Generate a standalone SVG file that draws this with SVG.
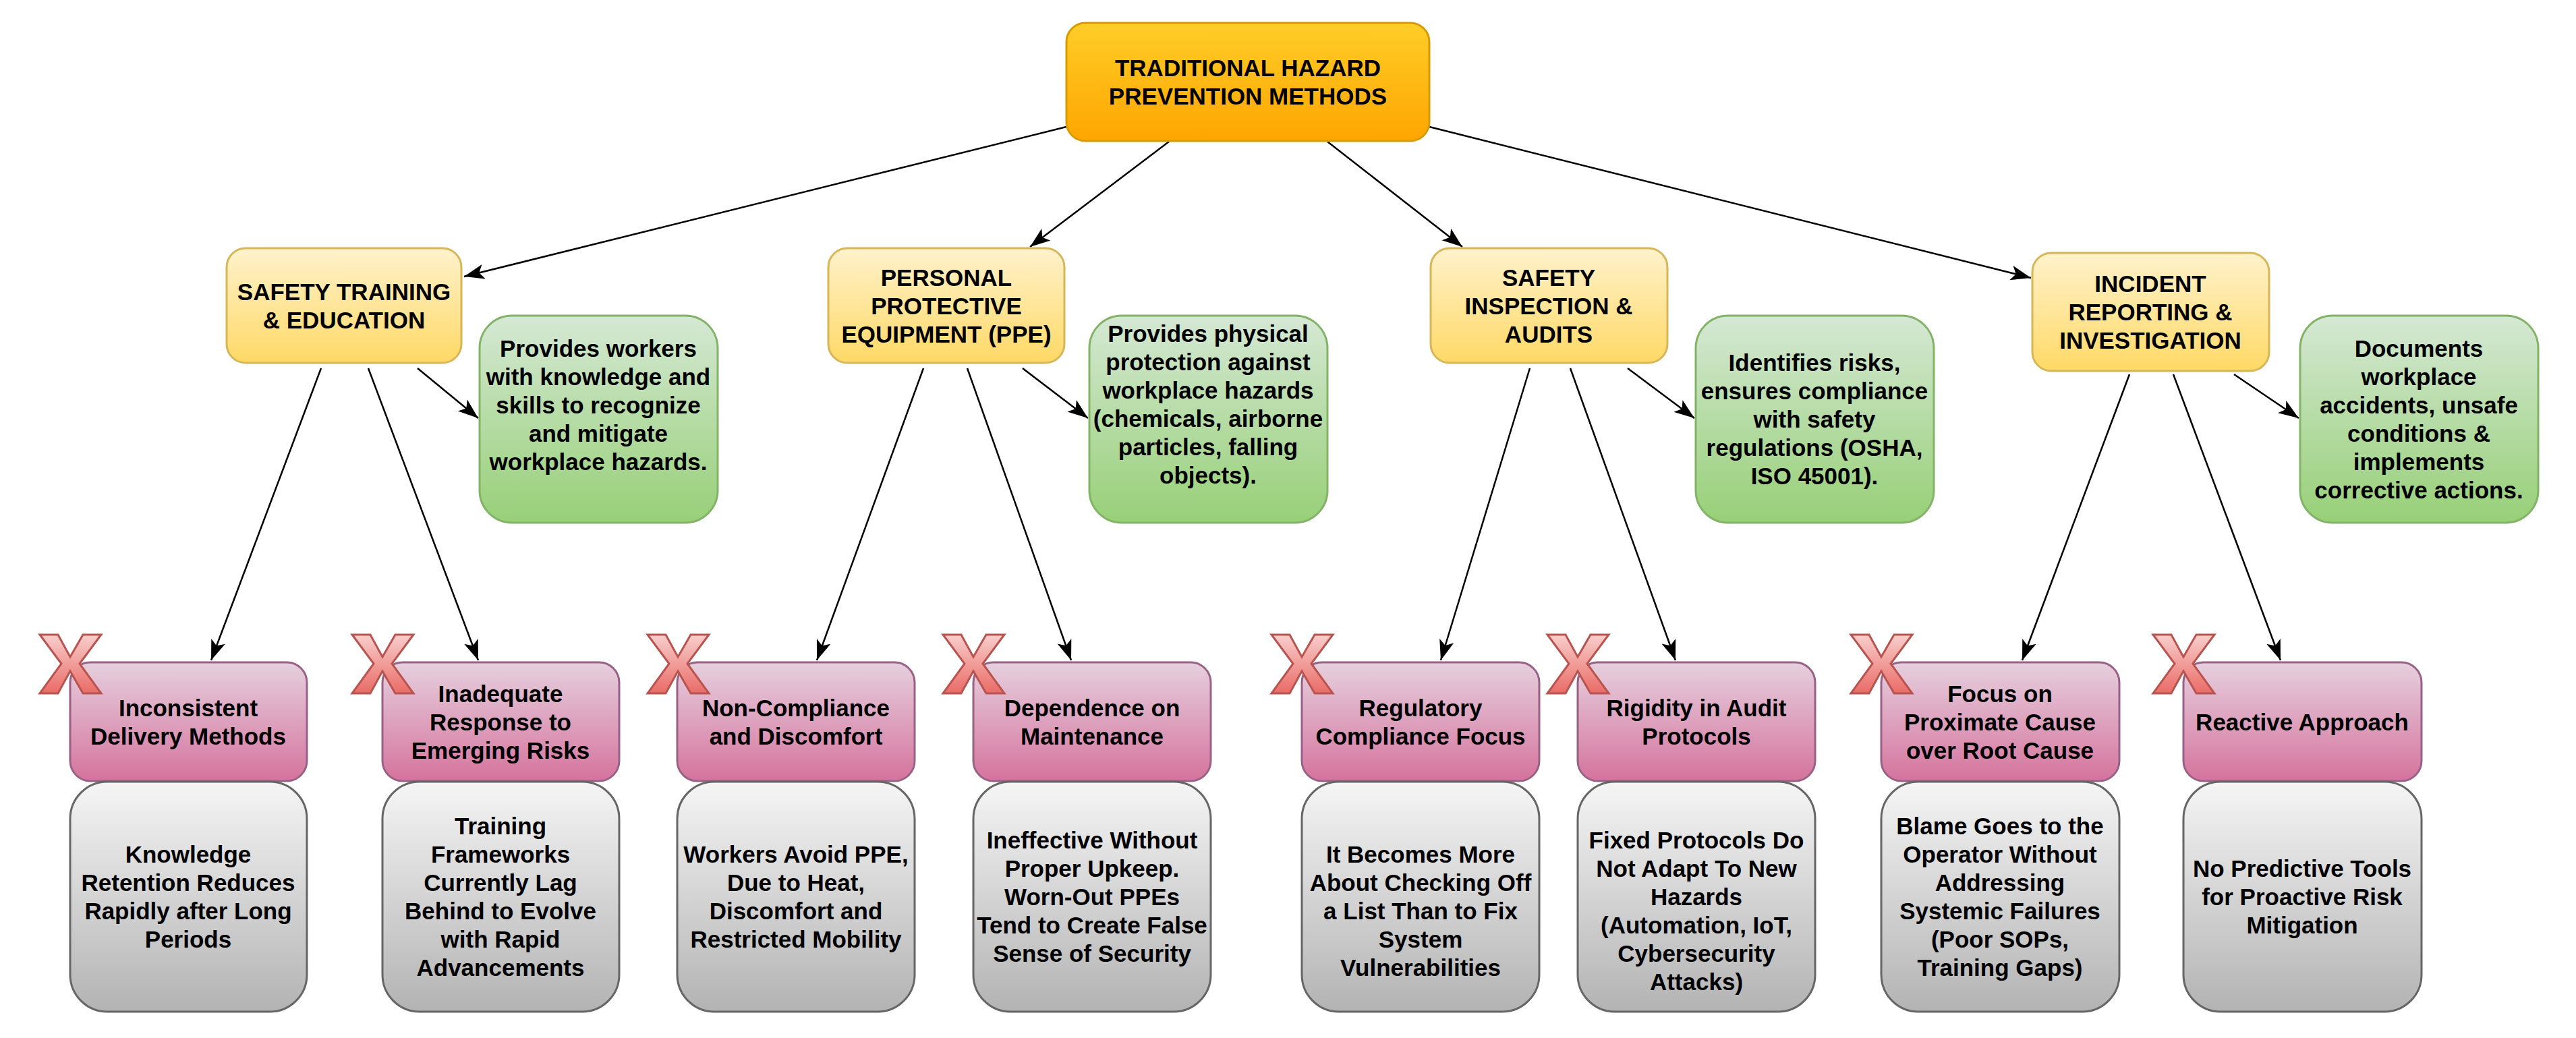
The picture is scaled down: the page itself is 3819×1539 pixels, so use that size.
<svg xmlns="http://www.w3.org/2000/svg" width="3819" height="1539" viewBox="0 0 3819 1539">
<defs>
<linearGradient id="gOr" x1="0" y1="0" x2="0" y2="1"><stop offset="0" stop-color="#ffcd28"/><stop offset="1" stop-color="#ffa500"/></linearGradient>
<linearGradient id="gY" x1="0" y1="0" x2="0" y2="1"><stop offset="0" stop-color="#fff2cc"/><stop offset="1" stop-color="#ffd966"/></linearGradient>
<linearGradient id="gG" x1="0" y1="0" x2="0" y2="1"><stop offset="0" stop-color="#d5e8d4"/><stop offset="1" stop-color="#97d077"/></linearGradient>
<linearGradient id="gP" x1="0" y1="0" x2="0" y2="1"><stop offset="0" stop-color="#e6d0de"/><stop offset="1" stop-color="#d5739d"/></linearGradient>
<linearGradient id="gS" x1="0" y1="0" x2="0" y2="1"><stop offset="0" stop-color="#f5f5f5"/><stop offset="1" stop-color="#b3b3b3"/></linearGradient>
<linearGradient id="gR" x1="0" y1="0" x2="0" y2="1"><stop offset="0" stop-color="#f8cecc"/><stop offset="1" stop-color="#ea6b66"/></linearGradient>
<marker id="ar" markerUnits="userSpaceOnUse" markerWidth="32" markerHeight="24" refX="30" refY="11" orient="auto"><path d="M0,0 L30,11 L0,22 L7,11 Z" fill="#000"/></marker>
<polygon id="xm" points="0,0 27,0 45,33 64,0 91,0 59,43 91,87 64,87 45,54 27,87 0,87 32,43" fill="url(#gR)" stroke="#b85450" stroke-width="3"/>
</defs>
<style>
text{font-family:"Liberation Sans",Arial,sans-serif;font-weight:bold;font-size:35px;fill:#000;text-anchor:middle;dominant-baseline:central}
.or{fill:url(#gOr);stroke:#d79b00;stroke-width:3}
.y{fill:url(#gY);stroke:#d6b656;stroke-width:3}
.g{fill:url(#gG);stroke:#82b366;stroke-width:3}
.p{fill:url(#gP);stroke:#996185;stroke-width:3}
.s{fill:url(#gS);stroke:#666;stroke-width:3}
.c{fill:none;stroke:#000;stroke-width:2.5;marker-end:url(#ar)}
</style>
<rect width="3819" height="1539" fill="#fff"/>
<g id="connectors">
<path class="c" d="M1581,188 L688,410"/>
<path class="c" d="M1733,210 L1527,366"/>
<path class="c" d="M1968,210 L2168,366"/>
<path class="c" d="M2119,188 L3011,412"/>
<path class="c" d="M619,546 L709,620"/>
<path class="c" d="M476,546 L313,979"/>
<path class="c" d="M546,546 L709,979"/>
<path class="c" d="M1516,546 L1613,620"/>
<path class="c" d="M1369,546 L1211,979"/>
<path class="c" d="M1434,546 L1588,979"/>
<path class="c" d="M2413,546 L2512,620"/>
<path class="c" d="M2268,546 L2136,979"/>
<path class="c" d="M2328,546 L2484,979"/>
<path class="c" d="M3312,555 L3408,620"/>
<path class="c" d="M3157,555 L2998,979"/>
<path class="c" d="M3222,555 L3381,979"/>
</g>
<g id="root"><rect class="or" x="1581" y="34" width="538" height="175" rx="28"/><text x="1850" y="100">TRADITIONAL HAZARD</text><text x="1850" y="142">PREVENTION METHODS</text></g>

<g id="cat1"><rect class="y" x="336" y="368" width="348" height="170" rx="28"/><text x="510" y="432">SAFETY TRAINING</text><text x="510" y="474">&amp; EDUCATION</text></g>
<g id="cat2"><rect class="y" x="1228" y="368" width="350" height="170" rx="28"/><text x="1403" y="411">PERSONAL</text><text x="1403" y="453">PROTECTIVE</text><text x="1403" y="495">EQUIPMENT (PPE)</text></g>
<g id="cat3"><rect class="y" x="2121" y="368" width="351" height="170" rx="28"/><text x="2296" y="411">SAFETY</text><text x="2296" y="453">INSPECTION &amp;</text><text x="2296" y="495">AUDITS</text></g>
<g id="cat4"><rect class="y" x="3013" y="375" width="351" height="175" rx="28"/><text x="3188" y="420">INCIDENT</text><text x="3188" y="462">REPORTING &amp;</text><text x="3188" y="504">INVESTIGATION</text></g>

<g id="desc1"><rect class="g" x="711" y="468" width="353" height="307" rx="48"/><text x="887" y="516">Provides workers</text><text x="887" y="558">with knowledge and</text><text x="887" y="600">skills to recognize</text><text x="887" y="642">and mitigate</text><text x="887" y="684">workplace hazards.</text></g>
<g id="desc2"><rect class="g" x="1615" y="468" width="353" height="307" rx="48"/><text x="1791" y="494">Provides physical</text><text x="1791" y="536">protection against</text><text x="1791" y="578">workplace hazards</text><text x="1791" y="620">(chemicals, airborne</text><text x="1791" y="662">particles, falling</text><text x="1791" y="704">objects).</text></g>
<g id="desc3"><rect class="g" x="2514" y="468" width="353" height="307" rx="48"/><text x="2690" y="537">Identifies risks,</text><text x="2690" y="579">ensures compliance</text><text x="2690" y="621">with safety</text><text x="2690" y="663">regulations (OSHA,</text><text x="2690" y="705">ISO 45001).</text></g>
<g id="desc4"><rect class="g" x="3410" y="468" width="353" height="307" rx="48"/><text x="3586" y="516">Documents</text><text x="3586" y="558">workplace</text><text x="3586" y="600">accidents, unsafe</text><text x="3586" y="642">conditions &amp;</text><text x="3586" y="684">implements</text><text x="3586" y="726">corrective actions.</text></g>

<g id="lim1"><rect class="p" x="104" y="982" width="351" height="176" rx="30"/><text x="279" y="1049">Inconsistent</text><text x="279" y="1091">Delivery Methods</text><use href="#xm" x="59" y="941"/></g>
<g id="lim2"><rect class="p" x="567" y="982" width="351" height="176" rx="30"/><text x="742" y="1028">Inadequate</text><text x="742" y="1070">Response to</text><text x="742" y="1112">Emerging Risks</text><use href="#xm" x="522" y="941"/></g>
<g id="lim3"><rect class="p" x="1004" y="982" width="352" height="176" rx="30"/><text x="1180" y="1049">Non-Compliance</text><text x="1180" y="1091">and Discomfort</text><use href="#xm" x="960" y="941"/></g>
<g id="lim4"><rect class="p" x="1443" y="982" width="352" height="176" rx="30"/><text x="1619" y="1049">Dependence on</text><text x="1619" y="1091">Maintenance</text><use href="#xm" x="1398" y="941"/></g>
<g id="lim5"><rect class="p" x="1930" y="982" width="352" height="176" rx="30"/><text x="2106" y="1049">Regulatory</text><text x="2106" y="1091">Compliance Focus</text><use href="#xm" x="1885" y="941"/></g>
<g id="lim6"><rect class="p" x="2339" y="982" width="352" height="176" rx="30"/><text x="2515" y="1049">Rigidity in Audit</text><text x="2515" y="1091">Protocols</text><use href="#xm" x="2294" y="941"/></g>
<g id="lim7"><rect class="p" x="2789" y="982" width="353" height="176" rx="30"/><text x="2965" y="1028">Focus on</text><text x="2965" y="1070">Proximate Cause</text><text x="2965" y="1112">over Root Cause</text><use href="#xm" x="2744" y="941"/></g>
<g id="lim8"><rect class="p" x="3237" y="982" width="353" height="176" rx="30"/><text x="3413" y="1070">Reactive Approach</text><use href="#xm" x="3192" y="941"/></g>

<g id="det1"><rect class="s" x="104" y="1159" width="351" height="341" rx="55"/><text x="279" y="1266">Knowledge</text><text x="279" y="1308">Retention Reduces</text><text x="279" y="1350">Rapidly after Long</text><text x="279" y="1392">Periods</text></g>
<g id="det2"><rect class="s" x="567" y="1159" width="351" height="341" rx="55"/><text x="742" y="1224">Training</text><text x="742" y="1266">Frameworks</text><text x="742" y="1308">Currently Lag</text><text x="742" y="1350">Behind to Evolve</text><text x="742" y="1392">with Rapid</text><text x="742" y="1434">Advancements</text></g>
<g id="det3"><rect class="s" x="1004" y="1159" width="352" height="341" rx="55"/><text x="1180" y="1266">Workers Avoid PPE,</text><text x="1180" y="1308">Due to Heat,</text><text x="1180" y="1350">Discomfort and</text><text x="1180" y="1392">Restricted Mobility</text></g>
<g id="det4"><rect class="s" x="1443" y="1159" width="352" height="341" rx="55"/><text x="1619" y="1245">Ineffective Without</text><text x="1619" y="1287">Proper Upkeep.</text><text x="1619" y="1329">Worn-Out PPEs</text><text x="1619" y="1371">Tend to Create False</text><text x="1619" y="1413">Sense of Security</text></g>
<g id="det5"><rect class="s" x="1930" y="1159" width="352" height="341" rx="55"/><text x="2106" y="1266">It Becomes More</text><text x="2106" y="1308">About Checking Off</text><text x="2106" y="1350">a List Than to Fix</text><text x="2106" y="1392">System</text><text x="2106" y="1434">Vulnerabilities</text></g>
<g id="det6"><rect class="s" x="2339" y="1159" width="352" height="341" rx="55"/><text x="2515" y="1245">Fixed Protocols Do</text><text x="2515" y="1287">Not Adapt To New</text><text x="2515" y="1329">Hazards</text><text x="2515" y="1371">(Automation, IoT,</text><text x="2515" y="1413">Cybersecurity</text><text x="2515" y="1455">Attacks)</text></g>
<g id="det7"><rect class="s" x="2789" y="1159" width="353" height="341" rx="55"/><text x="2965" y="1224">Blame Goes to the</text><text x="2965" y="1266">Operator Without</text><text x="2965" y="1308">Addressing</text><text x="2965" y="1350">Systemic Failures</text><text x="2965" y="1392">(Poor SOPs,</text><text x="2965" y="1434">Training Gaps)</text></g>
<g id="det8"><rect class="s" x="3237" y="1159" width="353" height="341" rx="55"/><text x="3413" y="1287">No Predictive Tools</text><text x="3413" y="1329">for Proactive Risk</text><text x="3413" y="1371">Mitigation</text></g>
</svg>
